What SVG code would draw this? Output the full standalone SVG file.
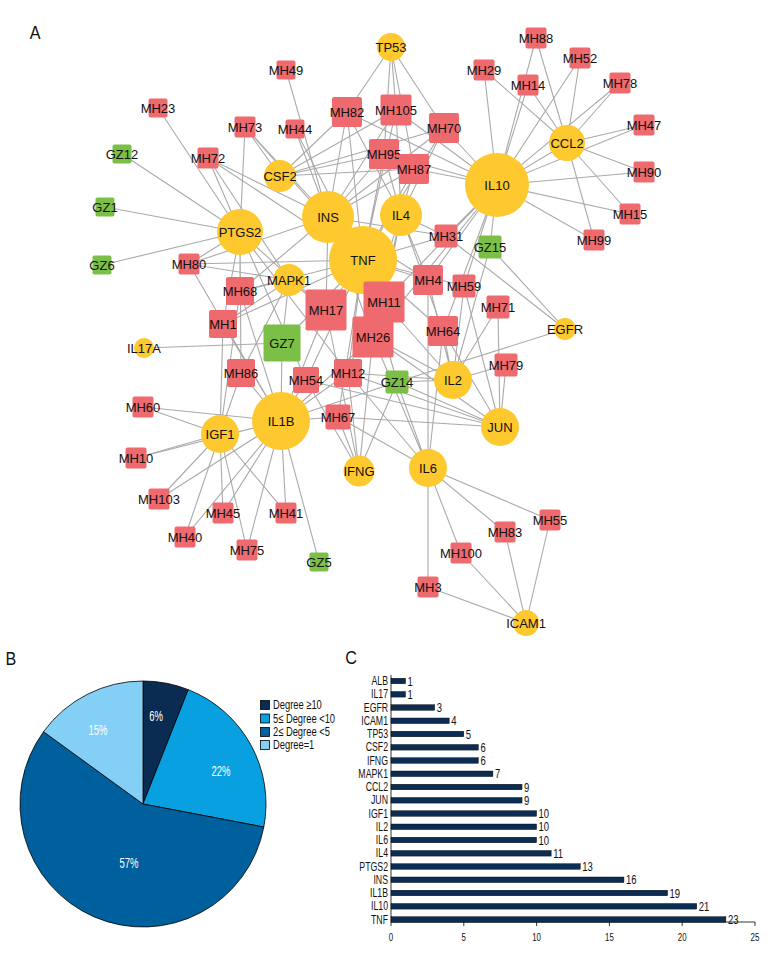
<svg xmlns="http://www.w3.org/2000/svg" width="780" height="960" viewBox="0 0 780 960">
<style>
.e{fill:none;stroke:#aaaaaa;stroke-width:1.1}
.t{fill:#FEC82F}
.r{fill:#EF6A6E}
.g{fill:#7CBF47}
.l{font-family:"Liberation Sans",Arial,sans-serif;font-size:13px;fill:#111;text-anchor:middle}
.c{font-family:"Liberation Sans",Arial,sans-serif;transform-box:fill-box}
.pl{font-size:14px;fill:#fff;text-anchor:middle;transform-origin:center;transform:scaleX(0.68)}
.lg{font-size:13px;fill:#111;transform-origin:left center;transform:scaleX(0.72)}
.cat{font-size:12px;fill:#111;text-anchor:end;transform-origin:right center;transform:scaleX(0.73)}
.val{font-size:12.5px;fill:#111;transform-origin:left center;transform:scaleX(0.76)}
.tk{font-size:10.5px;fill:#111;text-anchor:middle;transform-origin:center;transform:scaleX(0.75)}
.hd{font-size:19px;fill:#111;text-anchor:middle;transform-origin:center;transform:scaleX(0.85)}
.bar{fill:#0d2c54;stroke:#000;stroke-width:0.4}
</style>
<rect width="780" height="960" fill="#fff"/>
<g id="connectors">
<path class="e" d="M391 47L347 112M391 47L396 110M391 47L384 154M391 47L414 169M391 47L444 128"/>
<path class="e" d="M567 143L536 38M567 143L580 58M567 143L528 85M567 143L620 83M567 143L644 125M567 143L644 172M567 143L630 214M567 143L594 240M567 143L484 70M567 143L497 185"/>
<path class="e" d="M497 185L484 70M497 185L536 38M497 185L528 85M497 185L580 58M497 185L620 83M497 185L644 125M497 185L644 172M497 185L630 214M497 185L594 240M497 185L444 128M497 185L396 110M497 185L384 154M497 185L414 169M497 185L347 112M497 185L446 236M497 185L490 247M497 185L428 280M497 185L464 286M497 185L384 302M497 185L443 331M497 185L373 337"/>
<path class="e" d="M240 232L122 154M240 232L105 207M240 232L102 265M240 232L158 108M240 232L208 158M240 232L245 127M240 232L189 264M240 232L240 291M240 232L223 324M240 232L241 373M240 232L326 310M240 232L306 380M240 232L348 373"/>
<path class="e" d="M363 260L347 112M363 260L396 110M363 260L384 154M363 260L414 169M363 260L444 128M363 260L295 129M363 260L208 158M363 260L245 127M363 260L189 264M363 260L240 291M363 260L223 324M363 260L282 343M363 260L326 310M363 260L384 302M363 260L373 337M363 260L428 280M363 260L464 286M363 260L446 236M363 260L443 331M363 260L348 373M363 260L306 380M363 260L338 417M363 260L397 382"/>
<path class="e" d="M328 217L347 112M328 217L396 110M328 217L384 154M328 217L414 169M328 217L444 128M328 217L295 129M328 217L286 70M328 217L245 127M328 217L208 158M328 217L189 264M328 217L240 291M328 217L326 310M328 217L384 302M328 217L373 337M328 217L428 280M328 217L446 236"/>
<path class="e" d="M401 215L347 112M401 215L396 110M401 215L384 154M401 215L414 169M401 215L444 128M401 215L384 302M401 215L373 337M401 215L428 280M401 215L446 236M401 215L443 331M401 215L348 373"/>
<path class="e" d="M280 176L245 127M280 176L384 154M280 176L396 110M280 176L414 169M280 176L444 128M280 176L347 112"/>
<path class="e" d="M289 280L189 264M289 280L240 291M289 280L223 324M289 280L282 343M289 280L326 310M289 280L241 373M289 280L208 158"/>
<path class="e" d="M281 421L143 407M281 421L136 458M281 421L159 499M281 421L223 513M281 421L185 537M281 421L247 550M281 421L286 513M281 421L319 562M281 421L241 373M281 421L223 324M281 421L240 291M281 421L282 343M281 421L306 380M281 421L348 373M281 421L338 417M281 421L326 310M281 421L373 337M281 421L189 264M281 421L397 382"/>
<path class="e" d="M220 434L143 407M220 434L136 458M220 434L159 499M220 434L223 513M220 434L185 537M220 434L247 550M220 434L241 373M220 434L223 324M220 434L286 513M220 434L240 291"/>
<path class="e" d="M453 380L428 280M453 380L464 286M453 380L498 307M453 380L443 331M453 380L506 365M453 380L397 382M453 380L348 373M453 380L373 337M453 380L384 302M453 380L490 247"/>
<path class="e" d="M500 427L506 365M500 427L464 286M500 427L443 331M500 427L397 382M500 427L306 380M500 427L338 417M500 427L348 373M500 427L498 307M500 427L373 337"/>
<path class="e" d="M428 468L428 587M428 468L461 553M428 468L505 532M428 468L550 520M428 468L397 382M428 468L443 331M428 468L428 280M428 468L348 373M428 468L373 337M428 468L338 417"/>
<path class="e" d="M359 471L348 373M359 471L373 337M359 471L397 382M359 471L306 380M359 471L338 417M359 471L326 310"/>
<path class="e" d="M526 623L428 587M526 623L461 553M526 623L505 532M526 623L550 520"/>
<path class="e" d="M565 329L490 247M565 329L446 236M565 329L397 382M144 348L282 343"/>
</g>
<g id="TP53"><circle class="t" cx="391" cy="47" r="14"/><text class="l" x="391" y="51.5">TP53</text></g>
<g id="CCL2"><circle class="t" cx="567" cy="143" r="18"/><text class="l" x="567" y="147.5">CCL2</text></g>
<g id="IL10"><circle class="t" cx="497" cy="185" r="32"/><text class="l" x="497" y="189.5">IL10</text></g>
<g id="CSF2"><circle class="t" cx="280" cy="176" r="16"/><text class="l" x="280" y="180.5">CSF2</text></g>
<g id="PTGS2"><circle class="t" cx="240" cy="232" r="23"/><text class="l" x="240" y="236.5">PTGS2</text></g>
<g id="INS"><circle class="t" cx="328" cy="217" r="26"/><text class="l" x="328" y="221.5">INS</text></g>
<g id="IL4"><circle class="t" cx="401" cy="215" r="21"/><text class="l" x="401" y="219.5">IL4</text></g>
<g id="TNF"><circle class="t" cx="363" cy="260" r="34"/><text class="l" x="363" y="264.5">TNF</text></g>
<g id="MAPK1"><circle class="t" cx="289" cy="280" r="16"/><text class="l" x="289" y="284.5">MAPK1</text></g>
<g id="EGFR"><circle class="t" cx="565" cy="329" r="11"/><text class="l" x="565" y="333.5">EGFR</text></g>
<g id="IL17A"><circle class="t" cx="144" cy="348" r="10"/><text class="l" x="144" y="352.5">IL17A</text></g>
<g id="IL2"><circle class="t" cx="453" cy="380" r="19"/><text class="l" x="453" y="384.5">IL2</text></g>
<g id="JUN"><circle class="t" cx="500" cy="427" r="19"/><text class="l" x="500" y="431.5">JUN</text></g>
<g id="IL1B"><circle class="t" cx="281" cy="421" r="29"/><text class="l" x="281" y="425.5">IL1B</text></g>
<g id="IGF1"><circle class="t" cx="220" cy="434" r="19"/><text class="l" x="220" y="438.5">IGF1</text></g>
<g id="IFNG"><circle class="t" cx="359" cy="471" r="15.5"/><text class="l" x="359" y="475.5">IFNG</text></g>
<g id="IL6"><circle class="t" cx="428" cy="468" r="19"/><text class="l" x="428" y="472.5">IL6</text></g>
<g id="ICAM1"><circle class="t" cx="526" cy="623" r="13"/><text class="l" x="526" y="627.5">ICAM1</text></g>
<g id="MH88"><rect class="r" x="525.5" y="27.5" width="21" height="21" rx="2"/><text class="l" x="536" y="42.5">MH88</text></g>
<g id="MH29"><rect class="r" x="473.5" y="59.5" width="21" height="21" rx="2"/><text class="l" x="484" y="74.5">MH29</text></g>
<g id="MH52"><rect class="r" x="569.5" y="47.5" width="21" height="21" rx="2"/><text class="l" x="580" y="62.5">MH52</text></g>
<g id="MH14"><rect class="r" x="517.5" y="74.5" width="21" height="21" rx="2"/><text class="l" x="528" y="89.5">MH14</text></g>
<g id="MH78"><rect class="r" x="609.5" y="72.5" width="21" height="21" rx="2"/><text class="l" x="620" y="87.5">MH78</text></g>
<g id="MH49"><rect class="r" x="276.5" y="60.5" width="19" height="19" rx="2"/><text class="l" x="286" y="74.5">MH49</text></g>
<g id="MH23"><rect class="r" x="148.5" y="98.5" width="19" height="19" rx="2"/><text class="l" x="158" y="112.5">MH23</text></g>
<g id="MH73"><rect class="r" x="234.5" y="116.5" width="21" height="21" rx="2"/><text class="l" x="245" y="131.5">MH73</text></g>
<g id="MH44"><rect class="r" x="285.5" y="119.5" width="19" height="19" rx="2"/><text class="l" x="295" y="133.5">MH44</text></g>
<g id="MH82"><rect class="r" x="332" y="97" width="30" height="30" rx="2"/><text class="l" x="347" y="116.5">MH82</text></g>
<g id="MH105"><rect class="r" x="380.5" y="94.5" width="31" height="31" rx="2"/><text class="l" x="396" y="114.5">MH105</text></g>
<g id="MH70"><rect class="r" x="429" y="113" width="30" height="30" rx="2"/><text class="l" x="444" y="132.5">MH70</text></g>
<g id="MH47"><rect class="r" x="633.5" y="114.5" width="21" height="21" rx="2"/><text class="l" x="644" y="129.5">MH47</text></g>
<g id="MH72"><rect class="r" x="197.5" y="147.5" width="21" height="21" rx="2"/><text class="l" x="208" y="162.5">MH72</text></g>
<g id="MH95"><rect class="r" x="369" y="139" width="30" height="30" rx="2"/><text class="l" x="384" y="158.5">MH95</text></g>
<g id="MH87"><rect class="r" x="399" y="154" width="30" height="30" rx="2"/><text class="l" x="414" y="173.5">MH87</text></g>
<g id="MH90"><rect class="r" x="633.5" y="161.5" width="21" height="21" rx="2"/><text class="l" x="644" y="176.5">MH90</text></g>
<g id="MH15"><rect class="r" x="619.5" y="203.5" width="21" height="21" rx="2"/><text class="l" x="630" y="218.5">MH15</text></g>
<g id="MH99"><rect class="r" x="583.5" y="229.5" width="21" height="21" rx="2"/><text class="l" x="594" y="244.5">MH99</text></g>
<g id="MH31"><rect class="r" x="434.5" y="224.5" width="23" height="23" rx="2"/><text class="l" x="446" y="240.5">MH31</text></g>
<g id="GZ15"><rect class="g" x="478.5" y="235.5" width="23" height="23" rx="2"/><text class="l" x="490" y="251.5">GZ15</text></g>
<g id="GZ12"><rect class="g" x="112.5" y="144.5" width="19" height="19" rx="2"/><text class="l" x="122" y="158.5">GZ12</text></g>
<g id="GZ1"><rect class="g" x="95.5" y="197.5" width="19" height="19" rx="2"/><text class="l" x="105" y="211.5">GZ1</text></g>
<g id="GZ6"><rect class="g" x="92.5" y="255.5" width="19" height="19" rx="2"/><text class="l" x="102" y="269.5">GZ6</text></g>
<g id="MH80"><rect class="r" x="178.5" y="253.5" width="21" height="21" rx="2"/><text class="l" x="189" y="268.5">MH80</text></g>
<g id="MH68"><rect class="r" x="226" y="277" width="28" height="28" rx="2"/><text class="l" x="240" y="295.5">MH68</text></g>
<g id="MH1"><rect class="r" x="209" y="310" width="28" height="28" rx="2"/><text class="l" x="223" y="328.5">MH1</text></g>
<g id="GZ7"><rect class="g" x="263.5" y="324.5" width="37" height="37" rx="2"/><text class="l" x="282" y="347.5">GZ7</text></g>
<g id="MH17"><rect class="r" x="305.5" y="289.5" width="41" height="41" rx="2"/><text class="l" x="326" y="314.5">MH17</text></g>
<g id="MH11"><rect class="r" x="363.5" y="281.5" width="41" height="41" rx="2"/><text class="l" x="384" y="306.5">MH11</text></g>
<g id="MH26"><rect class="r" x="352.5" y="316.5" width="41" height="41" rx="2"/><text class="l" x="373" y="341.5">MH26</text></g>
<g id="MH4"><rect class="r" x="413" y="265" width="30" height="30" rx="2"/><text class="l" x="428" y="284.5">MH4</text></g>
<g id="MH59"><rect class="r" x="452.5" y="274.5" width="23" height="23" rx="2"/><text class="l" x="464" y="290.5">MH59</text></g>
<g id="MH71"><rect class="r" x="486.5" y="295.5" width="23" height="23" rx="2"/><text class="l" x="498" y="311.5">MH71</text></g>
<g id="MH64"><rect class="r" x="428" y="316" width="30" height="30" rx="2"/><text class="l" x="443" y="335.5">MH64</text></g>
<g id="MH79"><rect class="r" x="494.5" y="353.5" width="23" height="23" rx="2"/><text class="l" x="506" y="369.5">MH79</text></g>
<g id="MH86"><rect class="r" x="227" y="359" width="28" height="28" rx="2"/><text class="l" x="241" y="377.5">MH86</text></g>
<g id="MH54"><rect class="r" x="293" y="367" width="26" height="26" rx="2"/><text class="l" x="306" y="384.5">MH54</text></g>
<g id="MH12"><rect class="r" x="334" y="359" width="28" height="28" rx="2"/><text class="l" x="348" y="377.5">MH12</text></g>
<g id="GZ14"><rect class="g" x="385.5" y="370.5" width="23" height="23" rx="2"/><text class="l" x="397" y="386.5">GZ14</text></g>
<g id="MH67"><rect class="r" x="325.5" y="404.5" width="25" height="25" rx="2"/><text class="l" x="338" y="421.5">MH67</text></g>
<g id="MH60"><rect class="r" x="132.5" y="396.5" width="21" height="21" rx="2"/><text class="l" x="143" y="411.5">MH60</text></g>
<g id="MH10"><rect class="r" x="125.5" y="447.5" width="21" height="21" rx="2"/><text class="l" x="136" y="462.5">MH10</text></g>
<g id="MH103"><rect class="r" x="148.5" y="488.5" width="21" height="21" rx="2"/><text class="l" x="159" y="503.5">MH103</text></g>
<g id="MH45"><rect class="r" x="212.5" y="502.5" width="21" height="21" rx="2"/><text class="l" x="223" y="517.5">MH45</text></g>
<g id="MH40"><rect class="r" x="174.5" y="526.5" width="21" height="21" rx="2"/><text class="l" x="185" y="541.5">MH40</text></g>
<g id="MH75"><rect class="r" x="236.5" y="539.5" width="21" height="21" rx="2"/><text class="l" x="247" y="554.5">MH75</text></g>
<g id="MH41"><rect class="r" x="275.5" y="502.5" width="21" height="21" rx="2"/><text class="l" x="286" y="517.5">MH41</text></g>
<g id="GZ5"><rect class="g" x="309.5" y="552.5" width="19" height="19" rx="2"/><text class="l" x="319" y="566.5">GZ5</text></g>
<g id="MH100"><rect class="r" x="450.5" y="542.5" width="21" height="21" rx="2"/><text class="l" x="461" y="557.5">MH100</text></g>
<g id="MH83"><rect class="r" x="494.5" y="521.5" width="21" height="21" rx="2"/><text class="l" x="505" y="536.5">MH83</text></g>
<g id="MH55"><rect class="r" x="539.5" y="509.5" width="21" height="21" rx="2"/><text class="l" x="550" y="524.5">MH55</text></g>
<g id="MH3"><rect class="r" x="417.5" y="576.5" width="21" height="21" rx="2"/><text class="l" x="428" y="591.5">MH3</text></g>
<g id="panel-labels">
<text class="c hd" x="35" y="39">A</text>
<text class="c hd" x="11" y="665">B</text>
<text class="c hd" x="351" y="664">C</text>
</g>
<g id="pie" stroke="#000" stroke-width="0.8">
<path d="M143 804L143 681A123 123 0 0 1 188.28 689.63Z" fill="#0a2b52"/>
<path d="M143 804L188.28 689.63A123 123 0 0 1 263.82 827.05Z" fill="#09a0e2"/>
<path d="M143 804L263.82 827.05A123 123 0 1 1 43.49 731.70Z" fill="#00609e"/>
<path d="M143 804L43.49 731.70A123 123 0 0 1 143 681Z" fill="#84cff5"/>
</g>
<g id="pie-labels">
<text class="c pl" x="156" y="721">6%</text>
<text class="c pl" x="221" y="776">22%</text>
<text class="c pl" x="129" y="868">57%</text>
<text class="c pl" x="98" y="735">15%</text>
</g>
<g id="legend">
<rect x="260.5" y="700.5" width="9" height="9" fill="#0a2b52" stroke="#000" stroke-width="0.8"/>
<rect x="260.5" y="714" width="9" height="9" fill="#09a0e2" stroke="#000" stroke-width="0.8"/>
<rect x="260.5" y="727.5" width="9" height="9" fill="#00609e" stroke="#000" stroke-width="0.8"/>
<rect x="260.5" y="740.5" width="9" height="9" fill="#84cff5" stroke="#000" stroke-width="0.8"/>
<text class="c lg" x="273" y="709.5">Degree ≥10</text>
<text class="c lg" x="273" y="723">5≤ Degree &lt;10</text>
<text class="c lg" x="273" y="736.5">2≤ Degree &lt;5</text>
<text class="c lg" x="273" y="749.5">Degree=1</text>
</g>
<g id="bar-chart">
<line x1="391" y1="675" x2="391" y2="922" stroke="#000" stroke-width="0.8"/>
<line x1="391" y1="922" x2="755" y2="922" stroke="#000" stroke-width="0.8"/>
<path d="M391 922v4M463.8 922v4M536.6 922v4M609.4 922v4M682.2 922v4M755 922v4" stroke="#000" stroke-width="0.8"/>
<text class="c tk" x="391" y="941">0</text>
<text class="c tk" x="463.8" y="941">5</text>
<text class="c tk" x="536.6" y="941">10</text>
<text class="c tk" x="609.4" y="941">15</text>
<text class="c tk" x="682.2" y="941">20</text>
<text class="c tk" x="755" y="941">25</text>
<rect class="bar" x="391" y="678.2" width="14.56" height="5.6"/>
<rect class="bar" x="391" y="691.5" width="14.56" height="5.6"/>
<rect class="bar" x="391" y="704.7" width="43.68" height="5.6"/>
<rect class="bar" x="391" y="718" width="58.24" height="5.6"/>
<rect class="bar" x="391" y="731.2" width="72.8" height="5.6"/>
<rect class="bar" x="391" y="744.5" width="87.36" height="5.6"/>
<rect class="bar" x="391" y="757.7" width="87.36" height="5.6"/>
<rect class="bar" x="391" y="771" width="101.92" height="5.6"/>
<rect class="bar" x="391" y="784.2" width="131.04" height="5.6"/>
<rect class="bar" x="391" y="797.5" width="131.04" height="5.6"/>
<rect class="bar" x="391" y="810.7" width="145.6" height="5.6"/>
<rect class="bar" x="391" y="824" width="145.6" height="5.6"/>
<rect class="bar" x="391" y="837.2" width="145.6" height="5.6"/>
<rect class="bar" x="391" y="850.5" width="160.16" height="5.6"/>
<rect class="bar" x="391" y="863.7" width="189.28" height="5.6"/>
<rect class="bar" x="391" y="877" width="232.96" height="5.6"/>
<rect class="bar" x="391" y="890.2" width="276.64" height="5.6"/>
<rect class="bar" x="391" y="903.5" width="305.76" height="5.6"/>
<rect class="bar" x="391" y="916.7" width="334.88" height="5.6"/>
<text class="c cat" x="388" y="685.2">ALB</text>
<text class="c cat" x="388" y="698.5">IL17</text>
<text class="c cat" x="388" y="711.7">EGFR</text>
<text class="c cat" x="388" y="725">ICAM1</text>
<text class="c cat" x="388" y="738.2">TP53</text>
<text class="c cat" x="388" y="751.5">CSF2</text>
<text class="c cat" x="388" y="764.7">IFNG</text>
<text class="c cat" x="388" y="778">MAPK1</text>
<text class="c cat" x="388" y="791.2">CCL2</text>
<text class="c cat" x="388" y="804.5">JUN</text>
<text class="c cat" x="388" y="817.7">IGF1</text>
<text class="c cat" x="388" y="831">IL2</text>
<text class="c cat" x="388" y="844.2">IL6</text>
<text class="c cat" x="388" y="857.5">IL4</text>
<text class="c cat" x="388" y="870.7">PTGS2</text>
<text class="c cat" x="388" y="884">INS</text>
<text class="c cat" x="388" y="897.2">IL1B</text>
<text class="c cat" x="388" y="910.5">IL10</text>
<text class="c cat" x="388" y="923.7">TNF</text>
<text class="c val" x="407.6" y="685.7">1</text>
<text class="c val" x="407.6" y="699">1</text>
<text class="c val" x="436.7" y="712.2">3</text>
<text class="c val" x="451.2" y="725.5">4</text>
<text class="c val" x="465.8" y="738.7">5</text>
<text class="c val" x="480.4" y="752">6</text>
<text class="c val" x="480.4" y="765.2">6</text>
<text class="c val" x="494.9" y="778.5">7</text>
<text class="c val" x="524" y="791.7">9</text>
<text class="c val" x="524" y="805">9</text>
<text class="c val" x="538.6" y="818.2">10</text>
<text class="c val" x="538.6" y="831.5">10</text>
<text class="c val" x="538.6" y="844.7">10</text>
<text class="c val" x="553.2" y="858">11</text>
<text class="c val" x="582.3" y="871.2">13</text>
<text class="c val" x="626" y="884.5">16</text>
<text class="c val" x="669.6" y="897.7">19</text>
<text class="c val" x="698.8" y="911">21</text>
<text class="c val" x="727.9" y="924.2">23</text>
</g>
</svg>
